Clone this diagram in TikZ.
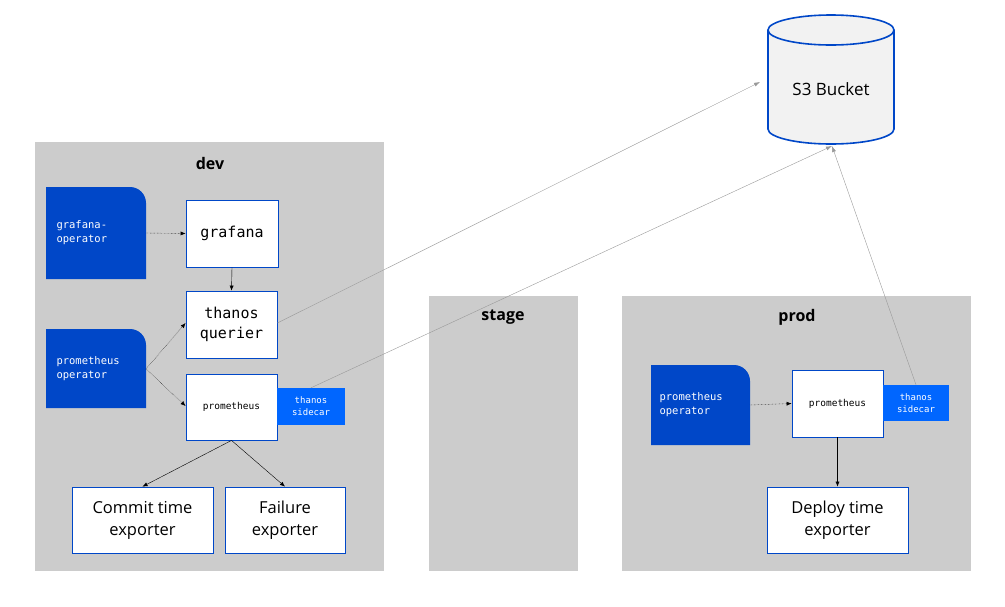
\documentclass[tikz,border=0pt]{standalone}
\usepackage{fontspec}
\setmainfont{Open Sans}
\setmonofont{DejaVu Sans Mono}
\usetikzlibrary{arrows.meta}
\definecolor{panel}{HTML}{CCCCCC}
\definecolor{opblue}{HTML}{0047C8}
\definecolor{scblue}{HTML}{0066FF}
\definecolor{bord}{HTML}{0047C8}
\begin{document}
\begin{tikzpicture}[x=1pt,y=-1pt,
  title/.style={font=\bfseries\fontsize{16}{19}\selectfont},
  box/.style={draw=bord,fill=white,line width=0.8pt},
  optext/.style={text=white,font=\ttfamily\fontsize{10.5}{14}\selectfont,align=left,anchor=west},
  sc/.style={fill=scblue,draw=none},
  sctext/.style={text=white,font=\ttfamily\fontsize{9}{12}\selectfont,align=center},
  dot/.style={-{Latex[length=5pt,width=4pt]},densely dotted,thin},
  sol/.style={-{Latex[length=5pt,width=4pt]},thin},
  gr/.style={-{Latex[length=6pt,width=4pt]},draw=gray!80,thin}]
\useasboundingbox (0,0) rectangle (1005,606);
% panels
\fill[panel] (35,142) rectangle (384,571);
\fill[panel] (429,296) rectangle (578,571);
\fill[panel] (622,296) rectangle (971,571);
\node[title] (tdev) at (210,163) {dev};
\node[title] (tstage) at (503,317) {stage};
\node[title] (tprod) at (797,317) {prod};
% operators
\fill[opblue] (46,279) -- (46,187) [rounded corners=16pt] -- (146,187) [sharp corners] -- (146,279) -- cycle;
\node[optext] (gop) at (53,233) {grafana-\\operator};
\coordinate (gopr) at (146,233);
\fill[opblue] (46,408) -- (46,329) [rounded corners=16pt] -- (146,329) [sharp corners] -- (146,408) -- cycle;
\node[optext] (pop) at (53,369) {prometheus\\operator};
\coordinate (popr) at (146,369);
\fill[opblue] (651,445) -- (651,365) [rounded corners=16pt] -- (750,365) [sharp corners] -- (750,445) -- cycle;
\node[optext] (pop2) at (656,405) {prometheus\\operator};
\coordinate (pop2r) at (750,405);
% boxes
\node[box,minimum width=92pt,minimum height=67pt,font=\ttfamily\fontsize{15}{18}\selectfont] (graf) at (232,233.5) {grafana};
\node[box,minimum width=91pt,minimum height=67pt,font=\ttfamily\fontsize{15}{20}\selectfont,align=center] (quer) at (231.5,324.5) {thanos\\querier};
\node[box,minimum width=91pt,minimum height=66pt,font=\ttfamily\fontsize{9.5}{11}\selectfont] (prom) at (231.5,407) {prometheus};
\node[sc,minimum width=68pt,minimum height=37pt,inner sep=0pt] (sc1) at (311,406.5) {};
\node[sctext] at (sc1) {thanos\\sidecar};
\node[box,minimum width=141pt,minimum height=66pt,font=\fontsize{16.5}{22}\selectfont,align=center] (commit) at (142.5,520) {Commit time\\exporter};
\node[box,minimum width=120pt,minimum height=66pt,font=\fontsize{16.5}{22}\selectfont,align=center] (fail) at (285,520) {Failure\\exporter};
\node[box,minimum width=91pt,minimum height=67pt,font=\ttfamily\fontsize{9.5}{11}\selectfont] (prom2) at (837.5,403.5) {prometheus};
\node[sc,minimum width=66pt,minimum height=36pt,inner sep=0pt] (sc2) at (916,403) {};
\node[sctext] at (sc2) {thanos\\sidecar};
\node[box,minimum width=141pt,minimum height=66pt,font=\fontsize{16.5}{22}\selectfont,align=center] (deploy) at (837.5,520) {Deploy time\\exporter};
% S3 bucket
\filldraw[fill=black!5,draw=bord,line width=1.6pt] (768,30) -- (768,129) arc[start angle=180,end angle=360,x radius=63,y radius=-15] -- (894,30) arc[start angle=0,end angle=180,x radius=63,y radius=-15] -- cycle;
\draw[draw=bord,line width=1.6pt] (768,30) arc[start angle=180,end angle=360,x radius=63,y radius=-15];
\node[font=\fontsize{17}{20}\selectfont] (s3) at (831,89) {S3 Bucket};
\coordinate (s3a) at (760,82);
\coordinate (s3b) at (832,146);
% connectors
\draw[dot] (gopr) -- (graf.west);
\draw[sol] (graf.south) -- (quer.north);
\draw[dot] (popr) -- (quer.west |- 0,323) ;
\draw[dot] (popr) -- (prom.west |- 0,406);
\draw[sol] (prom.south) -- (commit.north);
\draw[sol] (prom.south) -- (fail.north);
\draw[dot] (pop2r) -- (prom2.west);
\draw[sol] (prom2.south) -- (deploy.north);
\draw[gr] (quer.east |- 0,323) -- (s3a);
\draw[gr] (sc1.north) -- (s3b);
\draw[gr] (sc2.north) -- (s3b);
\end{tikzpicture}
\end{document}
